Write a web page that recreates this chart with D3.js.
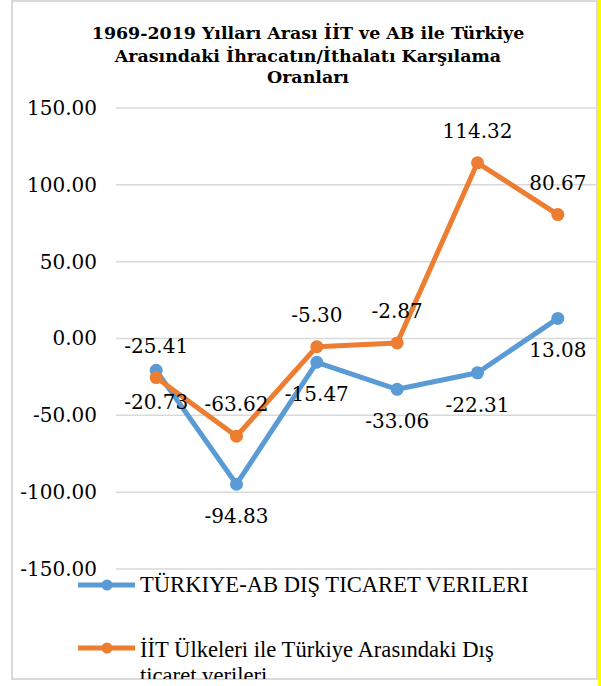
<!DOCTYPE html>
<html><head><meta charset="utf-8">
<script src="https://cdn.jsdelivr.net/npm/d3@7"></script>
<style>
html,body{margin:0;padding:0;background:#fff;}
svg{display:block;}
</style></head>
<body>
<svg id="c" width="601" height="686"></svg>
<script>
const categories = ["1","2","3","4","5","6"];
const abValues = [-20.73, -94.83, -15.47, -33.06, -22.31, 13.08];
const iitValues = [-25.41, -63.62, -5.30, -2.87, 114.32, 80.67];
const yTicks = [-150, -100, -50, 0, 50, 100, 150];
const seriesNames = ["TÜRKIYE-AB DIŞ TICARET VERILERI", "İİT Ülkeleri ile Türkiye Arasındaki Dış ticaret verileri"];
const titleLines = ["1969-2019 Yılları Arası İİT ve AB ile Türkiye", "Arasındaki İhracatın/İthalatı Karşılama", "Oranları"];

const blue = "#5b9bd5", orange = "#ed7d31", grid = "#d9d9d9";
const fmt = d3.formatLocale({decimal: ".", thousands: ",", grouping: [3], currency: ["", ""], minus: "-"}).format(".2f");
const svg = d3.select("#c");

// yellow strip and frame
svg.append("rect").attr("x", 598).attr("y", 0).attr("width", 3).attr("height", 686).attr("fill", "#ffff00");
svg.append("defs").append("clipPath").attr("id", "clip")
  .append("rect").attr("x", 12).attr("y", 1).attr("width", 585).attr("height", 678);
svg.append("rect").attr("x", 12).attr("y", 1).attr("width", 585).attr("height", 678)
  .attr("fill", "#fff").attr("stroke", grid).attr("stroke-width", 2);

const g = svg.append("g").attr("clip-path", "url(#clip)");

// title
const title = g.append("text").attr("text-anchor", "middle")
  .attr("font-family", "DejaVu Serif").attr("font-weight", "bold").attr("fill", "#000");
const titleBaselines = [39, 62, 83];
titleLines.forEach((t, i) => {
  title.append("tspan").attr("x", 308).attr("y", titleBaselines[i]).text(t);
});
title.attr("font-size", 16);
const w0 = title.select("tspan").node().getComputedTextLength();
title.attr("font-size", 16 * 433 / w0);

const x = d3.scaleBand().domain(categories).range([116, 598]).padding(0);
const cx = d => x(d) + x.bandwidth() / 2;
const y = d3.scaleLinear().domain([-150, 150]).range([569, 108]);

// grid
const yAxis = d3.axisLeft(y).tickValues(yTicks).tickFormat(fmt).tickSize(0).tickPadding(19);
const ax = g.append("g").attr("transform", "translate(116,0)").call(yAxis);
ax.select(".domain").remove();
ax.selectAll("text").attr("font-family", "DejaVu Serif").attr("font-size", 20).attr("fill", "#000");
g.append("g").selectAll("line").data(yTicks).join("line")
  .attr("x1", 116).attr("x2", 597).attr("y1", d => y(d)).attr("y2", d => y(d))
  .attr("stroke", grid).attr("stroke-width", 1.5);

const line = d3.line().x((d, i) => cx(categories[i])).y(d => y(d));

function drawSeries(vals, color) {
  g.append("path").datum(vals).attr("d", line).attr("fill", "none")
    .attr("stroke", color).attr("stroke-width", 5).attr("stroke-linejoin", "round");
  g.append("g").selectAll("circle").data(vals).join("circle")
    .attr("cx", (d, i) => cx(categories[i])).attr("cy", d => y(d)).attr("r", 6.5).attr("fill", color);
}
drawSeries(abValues, blue);
drawSeries(iitValues, orange);

function drawLabels(vals, above) {
  g.append("g").selectAll("text").data(vals).join("text")
    .attr("x", (d, i) => cx(categories[i]))
    .attr("y", d => y(d) + (above ? -25 : 39))
    .attr("text-anchor", "middle").attr("font-family", "DejaVu Serif").attr("font-size", 20).attr("fill", "#000")
    .text(d => fmt(d));
}
drawLabels(abValues, false);
drawLabels(iitValues, true);

// legend
const legend = [
  {color: blue, ly: 585, lines: [seriesNames[0]], base: 592},
  {color: orange, ly: 648, lines: ["İİT Ülkeleri ile Türkiye Arasındaki Dış", "ticaret verileri"], base: 657}
];
legend.forEach(l => {
  g.append("line").attr("x1", 78).attr("x2", 135).attr("y1", l.ly).attr("y2", l.ly)
    .attr("stroke", l.color).attr("stroke-width", 5);
  g.append("circle").attr("cx", 107).attr("cy", l.ly).attr("r", 5.5).attr("fill", l.color);
  const t = g.append("text").attr("font-family", "Liberation Serif").attr("font-size", 22.6).attr("fill", "#000");
  l.lines.forEach((s, i) => t.append("tspan").attr("x", 140).attr("y", l.base + i * 26).text(s));
});
</script>
</body></html>
